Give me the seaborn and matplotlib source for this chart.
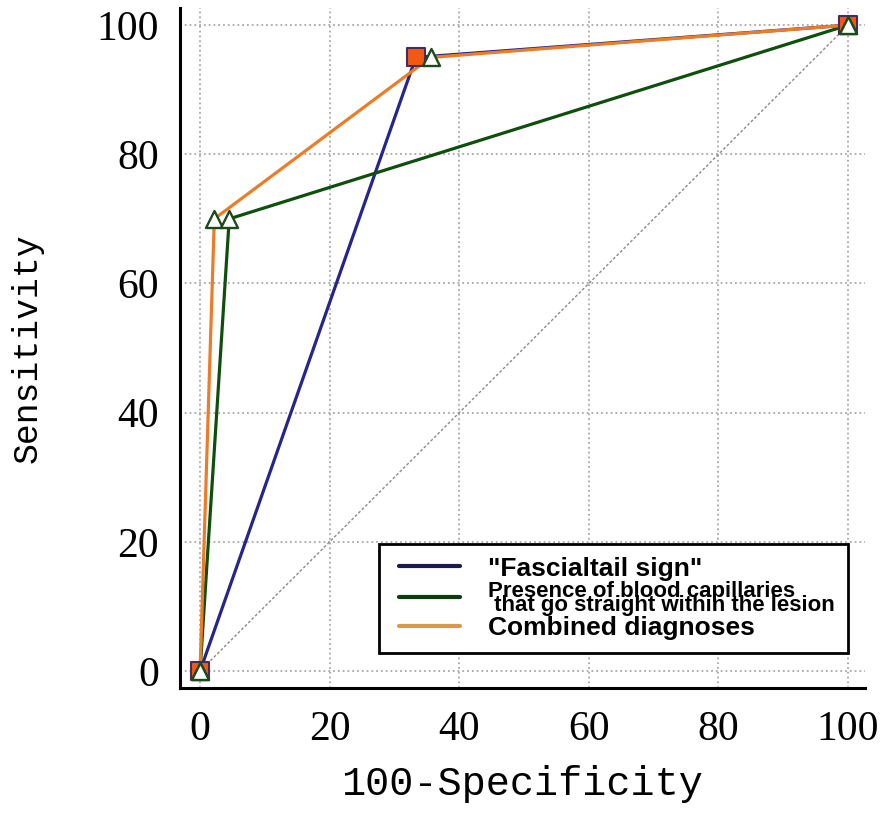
import matplotlib
matplotlib.use("Agg")
import matplotlib.pyplot as plt
import seaborn as sns
import pandas as pd
from matplotlib.lines import Line2D
from matplotlib.legend_handler import HandlerLine2D
from matplotlib.ticker import MultipleLocator

# ROC points (100-Specificity, Sensitivity)
fascial_fpr = [0, 33.3, 100]
fascial_tpr = [0, 95.0, 100]
capillary_fpr = [0, 4.5, 100]
capillary_tpr = [0, 70.0, 100]
combined_fpr = [0, 2.2, 35.6, 100]
combined_tpr = [0, 70.0, 95.0, 100]

labels = ['"Fascialtail sign"',
          "Presence of blood capillaries\n that go straight within the lesion",
          "Combined diagnoses"]
line_colors = ["#26268a", "#0e4f0e", "#ec7d28"]

sns.set_theme(style="white")
plt.rcParams["font.family"] = ["Liberation Serif", "DejaVu Serif"]
plt.rcParams["text.color"] = "black"
plt.rcParams["axes.labelcolor"] = "black"

fig = plt.figure(figsize=(8.86, 8.14), dpi=100)
ax = fig.add_axes([0.2032, 0.1548, 0.773, 0.835])

# chance diagonal
ax.plot([0, 100], [0, 100], color="#8a8a8a", linestyle=(0, (2, 1.5)), linewidth=1.0, zorder=1)

fascial = pd.DataFrame({"fpr": fascial_fpr, "tpr": fascial_tpr})
capillary = pd.DataFrame({"fpr": capillary_fpr, "tpr": capillary_tpr})
combined = pd.DataFrame({"fpr": combined_fpr, "tpr": combined_tpr})

for df, col in zip([fascial, capillary, combined], line_colors):
    sns.lineplot(data=df, x="fpr", y="tpr", sort=False, estimator=None,
                 color=col, linewidth=2.3, ax=ax, zorder=3)

sns.scatterplot(data=fascial, x="fpr", y="tpr", marker="s", s=150,
                color="#f25a14", edgecolor="#4a2a5a", linewidth=1.5, ax=ax, zorder=4)
sns.scatterplot(data=combined, x="fpr", y="tpr", marker="^", s=150,
                color="white", edgecolor="#1d4a1d", linewidth=1.7, ax=ax, zorder=5)
sns.scatterplot(data=capillary, x="fpr", y="tpr", marker="^", s=150,
                color="white", edgecolor="#1d4a1d", linewidth=1.7, ax=ax, zorder=5)

ax.set_xlim(-3.09, 102.6)
ax.set_ylim(-2.63, 102.6)
ax.xaxis.set_major_locator(MultipleLocator(20))
ax.yaxis.set_major_locator(MultipleLocator(20))
ax.xaxis.set_minor_locator(MultipleLocator(5))
ax.yaxis.set_minor_locator(MultipleLocator(5))
ax.grid(True, which="major", color="#a8a8a8", linestyle=":", linewidth=1.3)
ax.set_axisbelow(True)

for side in ["top", "right"]:
    ax.spines[side].set_visible(False)
for side in ["left", "bottom"]:
    ax.spines[side].set_color("black")
    ax.spines[side].set_linewidth(2.2)

ax.tick_params(which="major", direction="in", length=12, width=2, colors="black",
               labelsize=30, pad=16)
ax.tick_params(which="minor", direction="in", length=8, width=1.5, colors="black")
ax.tick_params(axis="y", pad=15)

ax.set_xlabel("100-Specificity", fontsize=29, family=["Liberation Mono"], labelpad=12)
ax.set_ylabel("Sensitivity", fontsize=25, family=["Liberation Mono"], labelpad=38)

handles = [Line2D([], [], color=c, linewidth=3) for c in ["#1a1a50", "#0b3d0b", "#d99a48"]]
leg = ax.legend(handles, labels, loc="lower right", bbox_to_anchor=(100, 2.8),
                bbox_transform=ax.transData, borderaxespad=0, frameon=True,
                fancybox=False, framealpha=1, edgecolor="black",
                prop={"family": "Liberation Sans", "weight": "bold", "size": 19},
                handlelength=2.61, handletextpad=1.06, borderpad=0.49, labelspacing=0.0,
                handler_map={Line2D: HandlerLine2D(xpad=0.265)})
leg.get_frame().set_linewidth(2)
t = leg.get_texts()[1]
t.set_fontsize(16)
t.set_linespacing(0.58)

fig.savefig("out.png", dpi=100)
